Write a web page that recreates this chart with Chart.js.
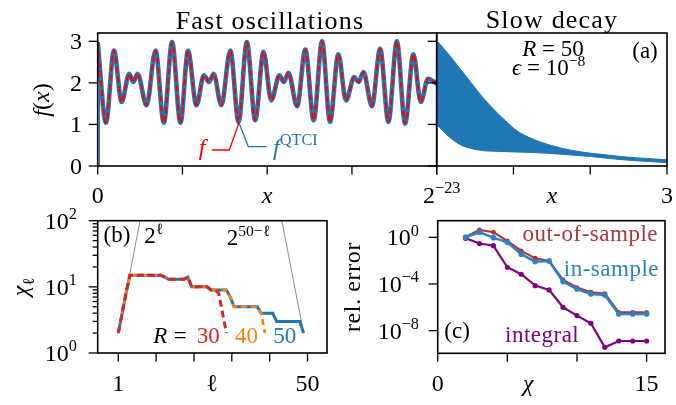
<!DOCTYPE html>
<html><head><meta charset="utf-8">
<script src="https://cdn.jsdelivr.net/npm/chart.js@4/dist/chart.umd.min.js"></script>
<style>
html,body{margin:0;padding:0;background:#fff;}
#wrap{position:relative;width:676px;height:405px;overflow:hidden;background:#fff;}
canvas{position:absolute;left:0;top:0;}
</style></head><body>
<div id="wrap">
<canvas id="cA1" width="676" height="405"></canvas>
<canvas id="cA2" width="676" height="405"></canvas>
<canvas id="cB" width="676" height="405"></canvas>
<canvas id="cC" width="676" height="405"></canvas>
</div>
<script>
// ================= DATA =================
// (a) left: fast oscillations, x in units of 2^-23 (local extrema)
const fastX = [0, 0.0244, 0.0479, 0.0706, 0.0929, 0.1047, 0.1176, 0.1441, 0.1706, 0.1950,
  0.2194, 0.2441, 0.2665, 0.2912, 0.3135, 0.3282, 0.3421, 0.3647, 0.3912, 0.4156,
  0.4400, 0.4647, 0.4891, 0.5118, 0.5362, 0.5488, 0.5626, 0.5882, 0.6126, 0.6371,
  0.6618, 0.6853, 0.7097, 0.7324, 0.7568, 0.7694, 0.7841, 0.8088, 0.8332, 0.8576,
  0.8824, 0.9068, 0.9312, 0.9529, 0.9744, 1.0];
const fastF = [2.98, 1.04, 2.78, 1.54, 2.22, 2.02, 2.22, 1.46, 2.78, 1.04,
  2.98, 1.04, 2.77, 1.46, 2.18, 2.02, 2.22, 1.46, 2.78, 1.06,
  2.98, 1.10, 2.75, 1.58, 2.18, 2.02, 2.24, 1.44, 2.80, 1.10,
  3.00, 1.06, 2.69, 1.58, 2.14, 2.02, 2.26, 1.44, 2.82, 1.06,
  3.00, 1.02, 2.69, 1.54, 2.10, 1.98];
const fastQTCI = [2.98, 1.04, 2.78, 1.54, 2.22, 2.02, 2.22, 1.46, 2.78, 1.04,
  2.98, 1.04, 2.77, 1.46, 2.18, 2.02, 2.22, 1.46, 2.78, 1.06,
  2.98, 1.10, 2.75, 1.58, 2.18, 2.02, 2.24, 1.44, 2.80, 1.10,
  3.00, 1.06, 2.69, 1.58, 2.14, 2.02, 2.26, 1.44, 2.82, 1.06,
  3.00, 1.02, 2.69, 1.54, 2.10, 1.98];
const fastEdgeX = [0.005, 0.005];
const fastEdgeF = [0, 2.95];

// (a) right: slow decay envelope
const slowX = [0, 0.15, 0.3, 0.45, 0.6, 0.75, 0.9, 1.05, 1.25, 1.5, 1.75, 2.0, 2.25, 2.5, 2.75, 3.0];
const slowUpper = [3.02, 2.70, 2.35, 2.00, 1.65, 1.35, 1.08, 0.84, 0.65, 0.49, 0.38, 0.31, 0.26, 0.21, 0.18, 0.15];
const slowLower = [1.00, 0.72, 0.52, 0.42, 0.37, 0.355, 0.345, 0.335, 0.325, 0.30, 0.265, 0.23, 0.18, 0.14, 0.11, 0.08];

// (b) bond dimensions chi_l
const ell50 = [1,2,3,4,5,6,7,8,9,10,11,12,13,14,15,16,17,18,19,20,21,22,23,24,25,26,27,28,29,30,31,32,33,34,35,36,37,38,39,40,41,42,43,44,45,46,47,48,49];
const chi50 = [2,4,8,15,15,15,15,15,15,15,15,15,14,13,13,13,13,13,14,10,10,10,10,10,9,9,9,9,9,7,5,5,5,5,5,5,5,4,4,4,4,3,3,3,3,3,3,3,2];
const ell40 = [1,2,3,4,5,6,7,8,9,10,11,12,13,14,15,16,17,18,19,20,21,22,23,24,25,26,27,28,29,30,31,32,33,34,35,36,37,38,39];
const chi40 = [2,4,8,15,15,15,15,15,15,15,15,15,14,13,13,13,13,13,14,10,10,10,10,10,9,9,9,9,9,7,5,5,5,5,5,5,5,4,2];
const ell30 = [1,2,3,4,5,6,7,8,9,10,11,12,13,14,15,16,17,18,19,20,21,22,23,24,25,26,27,28,29];
const chi30 = [2,4,8,15,15,15,15,15,15,15,15,15,14,13,13,13,13,13,14,10,10,10,10,10,9,9,8,4,2];
const guideLeftEll = [1,2,3,4,5,6,7];
const guideLeftChi = [2,4,8,16,32,64,128];
const guideRightEll = [43,44,45,46,47,48,49];
const guideRightChi = [128,64,32,16,8,4,2];

// (c) relative errors vs chi
const chiC = [2,3,4,5,6,7,8,9,10,11,12,13,14,15];
const errOut = [1.07, 4.27, 2.69, 0.49, 0.068, 0.016, 0.0093, 2.2e-4, 4.9e-5, 1.95e-5, 1.5e-5, 3.7e-7, 3.7e-7, 3.7e-7];
const errIn  = [1.0, 2.7, 0.93, 0.37, 0.035, 0.0081, 0.0093, 1.6e-4, 3.7e-5, 1.4e-5, 1.15e-5, 2.7e-7, 2.7e-7, 2.7e-7];
const errInt = [0.82, 0.29, 0.19, 2.7e-3, 6.8e-4, 7.2e-5, 3.1e-5, 1.0e-6, 1.95e-7, 4.3e-8, 3.7e-10, 1.3e-9, 1.3e-9, 1.3e-9];

// tick positions
const ticksAxL = [0, 0.25, 0.5, 0.75, 1];
const ticksAxR = [0, 1, 2, 3];
const ticksAy = [0, 1, 2, 3];
const ticksBx = [1, 10.8, 20.6, 30.4, 40.2, 50];
const ticksBy = [1, 10, 100];
const minorBy = [2,3,4,5,6,7,8,9,20,30,40,50,60,70,80,90];
const ticksCx = [0, 5, 10, 15];
const ticksCy = [1, 1e-4, 1e-8];

// ================= HELPERS =================
const W = 676, H = 405;
const FAM = '"Liberation Serif","DejaVu Serif","Times New Roman",serif';
const BLUE = '#1f77b4', ORANGE = '#ff7f0e', RED = '#d62728';
function font(size, italic){ return (italic ? 'italic ' : '') + size + 'px ' + FAM; }
function pts(xs, ys){ return xs.map((x, i) => ({x: x, y: ys[i]})); }

function drawRich(ctx, parts, x, y, o){
  o = o || {};
  const size = o.size || 24, align = o.align || 'left', color = o.color || '#000', ls = o.ls || 0;
  const items = parts.map(p => {
    const t = p[0], f = p[1] || '', c = p[2];
    const sup = f.indexOf('s') >= 0, sub = f.indexOf('b') >= 0, it = f.indexOf('i') >= 0;
    const sz = (sup || sub) ? size * 0.68 : size;
    ctx.font = font(sz, it);
    ctx.letterSpacing = ls + 'px';
    return {t, sz, it, sup, sub, w: ctx.measureText(t).width, c: c || color};
  });
  const total = items.reduce((a, b) => a + b.w, 0);
  let cx = align === 'center' ? x - total / 2 : align === 'right' ? x - total : x;
  ctx.textAlign = 'left'; ctx.textBaseline = 'alphabetic';
  for (const it of items){
    ctx.font = font(it.sz, it.it);
    ctx.letterSpacing = ls + 'px';
    ctx.fillStyle = it.c;
    const dy = it.sup ? -size * 0.4 : it.sub ? size * 0.25 : 0;
    ctx.fillText(it.t, cx, y + dy);
    cx += it.w;
  }
  ctx.letterSpacing = '0px';
}

function makeDeco(spec){
  return {
    id: 'deco',
    afterDraw(chart){
      const ctx = chart.ctx, a = chart.chartArea, sx = chart.scales.x, sy = chart.scales.y;
      ctx.save();
      (spec.lines || []).forEach(l => {
        ctx.beginPath(); ctx.strokeStyle = l.color; ctx.lineWidth = l.width;
        l.pts.forEach((p, i) => i ? ctx.lineTo(p[0], p[1]) : ctx.moveTo(p[0], p[1]));
        ctx.stroke();
      });
      ctx.strokeStyle = '#000'; ctx.lineWidth = 1.3;
      const tick = (axis, vals, len) => (vals || []).forEach(v => {
        ctx.beginPath();
        if (axis === 'x'){ const px = sx.getPixelForValue(v); ctx.moveTo(px, a.bottom); ctx.lineTo(px, a.bottom + len); }
        else { const py = sy.getPixelForValue(v); ctx.moveTo(a.left, py); ctx.lineTo(a.left - len, py); }
        ctx.stroke();
      });
      tick('x', spec.xTicks, 8.5);
      tick('y', spec.yTicks, 9);
      tick('y', spec.yMinor, 5);
      ctx.lineWidth = 1.6; ctx.strokeStyle = '#000';
      ctx.strokeRect(a.left, a.top, a.right - a.left, a.bottom - a.top);
      (spec.xLabels || []).forEach(L => drawRich(ctx, L.parts, sx.getPixelForValue(L.v) + (L.dx || 0), spec.xLabelY, {size: 24, align: 'center'}));
      (spec.yLabels || []).forEach(L => drawRich(ctx, L.parts, spec.yLabelX, sy.getPixelForValue(L.v) + 8, {size: 24, align: 'right'}));
      (spec.texts || []).forEach(T => {
        if (T.rot){ ctx.save(); ctx.translate(T.x, T.y); ctx.rotate(-Math.PI / 2); drawRich(ctx, T.parts, 0, 0, T); ctx.restore(); }
        else drawRich(ctx, T.parts, T.x, T.y, T);
      });
      ctx.restore();
    }
  };
}

function makeChart(id, area, xs, ys, datasets, spec){
  return new Chart(document.getElementById(id), {
    type: 'line',
    data: { datasets: datasets },
    options: {
      responsive: false, animation: false, events: [], devicePixelRatio: 1,
      layout: { padding: { left: area.l, top: area.t, right: W - area.r, bottom: H - area.b } },
      scales: {
        x: Object.assign({ type: 'linear', display: false }, xs),
        y: Object.assign({ type: 'linear', display: false }, ys)
      },
      plugins: { legend: { display: false }, tooltip: { enabled: false } },
      elements: { point: { radius: 0 }, line: { tension: 0 } }
    },
    plugins: [makeDeco(spec)]
  });
}

// ================= PANEL (a) left =================
makeChart('cA1', {l: 97.7, t: 33, r: 436.7, b: 166}, {min: 0, max: 1}, {min: 0, max: 3.2}, [
  { data: pts(fastEdgeX, fastEdgeF), borderColor: BLUE, borderWidth: 1.3, order: 3 },
  { data: pts(fastX, fastQTCI), borderColor: BLUE, borderWidth: 4.6, cubicInterpolationMode: 'monotone', order: 2 },
  { data: pts(fastX, fastF), borderColor: '#ff0000', borderWidth: 2, borderDash: [6.5, 3], cubicInterpolationMode: 'monotone', order: 1 }
], {
  xTicks: ticksAxL, yTicks: ticksAy,
  xLabelY: 203,
  xLabels: [ {v: 0, parts: [['0']]}, {v: 0.5, parts: [['x', 'i']]}, {v: 1, dx: 5, parts: [['2'], ['\u221223', 's']]} ],
  yLabelX: 82,
  yLabels: ticksAy.map(v => ({v: v, parts: [[String(v)]]})),
  lines: [
    { color: '#ff0000', width: 1.3, pts: [[211.7, 150], [229.3, 150], [239, 122.7]] },
    { color: BLUE, width: 1.3, pts: [[239, 122.7], [248.3, 146.7], [266.7, 146.7]] }
  ],
  texts: [
    { x: 270, y: 29, parts: [['Fast oscillations']], size: 26, align: 'center', ls: 1.2 },
    { x: 49, y: 100, rot: true, parts: [['f', 'i'], ['('], ['x', 'i'], [')']], size: 24, align: 'center' },
    { x: 202, y: 155, parts: [['f', 'i']], size: 24, align: 'center', color: '#ff0000' },
    { x: 273, y: 155, parts: [['f', 'i'], ['QTCI', 's']], size: 24, align: 'left', color: BLUE }
  ]
});

// ================= PANEL (a) right =================
makeChart('cA2', {l: 436.7, t: 33, r: 667, b: 166}, {min: 0, max: 3}, {min: 0, max: 3.2}, [
  { data: pts(slowX, slowUpper), borderColor: BLUE, borderWidth: 1, backgroundColor: BLUE, fill: '+1', cubicInterpolationMode: 'monotone' },
  { data: pts(slowX, slowLower), borderColor: BLUE, borderWidth: 1, cubicInterpolationMode: 'monotone' }
], {
  xTicks: ticksAxR, yTicks: ticksAy,
  xLabelY: 203,
  xLabels: [ {v: 1.5, parts: [['x', 'i']]}, {v: 3, parts: [['3']]} ],
  texts: [
    { x: 552, y: 28, parts: [['Slow decay']], size: 26, align: 'center', ls: 1.2 },
    { x: 553, y: 56, parts: [['R', 'i'], [' = '], ['50']], size: 23, align: 'center' },
    { x: 512, y: 75, parts: [['\u03f5', 'i'], [' = '], ['10'], ['\u22128', 's']], size: 23, align: 'left' },
    { x: 645, y: 58, parts: [['(a)']], size: 23, align: 'center' }
  ]
});

// ================= PANEL (b) =================
makeChart('cB', {l: 97.7, t: 220.7, r: 327, b: 353}, {min: -4.335, max: 55.05}, {type: 'logarithmic', min: 1, max: 100}, [
  { data: pts(guideLeftEll, guideLeftChi), borderColor: '#8c8c8c', borderWidth: 1, order: 4 },
  { data: pts(guideRightEll, guideRightChi), borderColor: '#8c8c8c', borderWidth: 1, order: 4 },
  { data: pts(ell50, chi50), borderColor: BLUE, borderWidth: 3, order: 3 },
  { data: pts(ell40, chi40), borderColor: ORANGE, borderWidth: 2.6, borderDash: [6, 4], order: 2 },
  { data: pts(ell30, chi30), borderColor: RED, borderWidth: 3, borderDash: [7, 4], order: 1 }
], {
  xTicks: ticksBx, yTicks: ticksBy, yMinor: minorBy,
  xLabelY: 391,
  xLabels: [ {v: 1, parts: [['1']]}, {v: 25.2, parts: [['\u2113']]}, {v: 50, parts: [['50']]} ],
  yLabelX: 77,
  yLabels: [ {v: 1, parts: [['10'], ['0', 's']]}, {v: 10, parts: [['10'], ['1', 's']]}, {v: 100, parts: [['10'], ['2', 's']]} ],
  texts: [
    { x: 28, y: 287, rot: true, parts: [['\u03c7', 'i'], ['\u2113', 'b']], size: 24, align: 'center' },
    { x: 103.5, y: 241.5, parts: [['(b)']], size: 23 },
    { x: 144.3, y: 243, parts: [['2'], ['\u2113', 's']], size: 23 },
    { x: 226.7, y: 245, parts: [['2'], ['50\u2212\u2113', 's']], size: 23 },
    { x: 153.3, y: 343, parts: [['R', 'i']], size: 23 },
    { x: 180.3, y: 343, parts: [['=']], size: 23, align: 'center' },
    { x: 196.7, y: 343, parts: [['30']], size: 23, color: RED },
    { x: 235, y: 343, parts: [['40']], size: 23, color: ORANGE },
    { x: 273.3, y: 343, parts: [['50']], size: 23, color: BLUE }
  ]
});

// ================= PANEL (c) =================
const C_OUT = '#b23535', C_IN = '#2f82c3', C_INT = '#800080';
makeChart('cC', {l: 437.7, t: 220.7, r: 665, b: 353.3}, {min: 0, max: 16.32}, {type: 'logarithmic', min: 1.148e-10, max: 26.3}, [
  { data: pts(chiC, errInt), borderColor: C_INT, backgroundColor: C_INT, borderWidth: 2.2, pointRadius: 2.6, pointBorderWidth: 0, order: 3 },
  { data: pts(chiC, errOut), borderColor: C_OUT, backgroundColor: C_OUT, borderWidth: 2.2, pointRadius: 2.4, pointBorderWidth: 0, order: 2 },
  { data: pts(chiC, errIn), borderColor: C_IN, backgroundColor: C_IN, borderWidth: 2.6, pointRadius: 2.8, pointBorderWidth: 0, order: 1 }
], {
  xTicks: ticksCx, yTicks: ticksCy,
  xLabelY: 391,
  xLabels: [ {v: 0, parts: [['0']]}, {v: 6.5, parts: [['\u03c7', 'i']]}, {v: 15, parts: [['15']]} ],
  yLabelX: 419,
  yLabels: [ {v: 1, parts: [['10'], ['0', 's']]}, {v: 1e-4, parts: [['10'], ['\u22124', 's']]}, {v: 1e-8, parts: [['10'], ['\u22128', 's']]} ],
  texts: [
    { x: 360, y: 287, rot: true, parts: [['rel. error']], size: 24, align: 'center', ls: 0.6 },
    { x: 658, y: 241, parts: [['out-of-sample']], size: 23, align: 'right', color: C_OUT, ls: 0.5 },
    { x: 659, y: 275.5, parts: [['in-sample']], size: 23, align: 'right', color: C_IN, ls: 0.5 },
    { x: 505, y: 341.5, parts: [['integral']], size: 23, align: 'left', color: C_INT, ls: 0.5 },
    { x: 444.3, y: 338, parts: [['(c)']], size: 23 }
  ]
});
</script>
</body></html>
